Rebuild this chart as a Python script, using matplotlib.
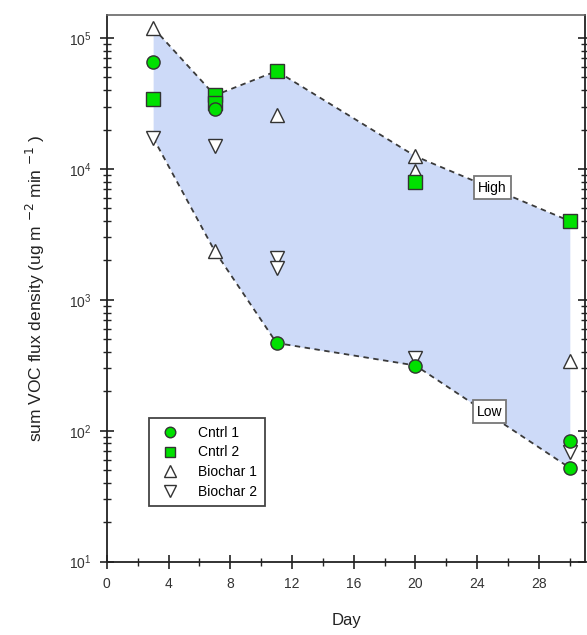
import matplotlib.pyplot as plt
from matplotlib.ticker import LogLocator, FixedLocator

plt.rcParams['font.family'] = ['Liberation Sans', 'DejaVu Sans']

# data (day, flux)
cntrl1_day = [3, 7, 11, 20, 30, 30]
cntrl1_val = [6.6e4, 2.85e4, 468, 315, 83, 52]
cntrl2_day = [3, 7, 7, 11, 20, 30]
cntrl2_val = [3.4e4, 3.65e4, 3.2e4, 5.6e4, 7.9e3, 4.0e3]
bio1_day = [3, 7, 11, 20, 20, 30]
bio1_val = [1.2e5, 2.35e3, 2.6e4, 1.25e4, 9.6e3, 338]
bio2_day = [3, 7, 11, 11, 20, 30]
bio2_val = [1.73e4, 1.49e4, 2.09e3, 1.75e3, 360, 69]

env_day = [3, 7, 11, 20, 30]
high_val = [1.2e5, 3.65e4, 5.6e4, 1.25e4, 4.0e3]
low_val = [1.73e4, 2.35e3, 468, 315, 52]

fig = plt.figure(figsize=(5.87, 6.35), dpi=100)
ax = fig.add_axes([0.182, 0.1156, 0.815, 0.8607])

ax.fill_between(env_day, low_val, high_val, color='#cddaf8', lw=0, zorder=1)
ax.plot(env_day, high_val, color='#3a3a3a', ls=(0, (3, 2.5)), lw=1.3, zorder=2)
ax.plot(env_day, low_val, color='#3a3a3a', ls=(0, (3, 2.5)), lw=1.3, zorder=2)

ec = '#333333'
ax.plot(bio1_day, bio1_val, ls='none', marker='^', ms=10, mfc='white', mec=ec, mew=1, label='Biochar 1', zorder=3)
ax.plot(bio2_day, bio2_val, ls='none', marker='v', ms=10, mfc='white', mec=ec, mew=1, label='Biochar 2', zorder=3)
ax.plot(cntrl2_day, cntrl2_val, ls='none', marker='s', ms=9.5, mfc='#00e000', mec=ec, mew=1, label='Cntrl 2', zorder=4)
ax.plot(cntrl1_day, cntrl1_val, ls='none', marker='o', ms=9.5, mfc='#00e000', mec=ec, mew=1, label='Cntrl 1', zorder=4)

ax.text(25.0, 7.2e3, 'High', fontsize=10, ha='center', va='center', zorder=5,
        bbox=dict(boxstyle='square,pad=0.3', fc='white', ec='#777777', lw=1.3))
ax.text(24.8, 1.4e2, 'Low', fontsize=10, ha='center', va='center', zorder=5,
        bbox=dict(boxstyle='square,pad=0.3', fc='white', ec='#777777', lw=1.3))

ax.set_yscale('log')
ax.set_xlim(0, 31)
ax.set_ylim(10, 1.5e5)
ax.xaxis.set_major_locator(FixedLocator([0, 4, 8, 12, 16, 20, 24, 28]))
ax.xaxis.set_minor_locator(FixedLocator([2, 6, 10, 14, 18, 22, 26, 30]))
ax.yaxis.set_major_locator(LogLocator(base=10, numticks=10))
ax.yaxis.set_minor_locator(LogLocator(base=10, subs=range(2, 10), numticks=10))

ax.tick_params(which='major', direction='inout', length=10, width=1.2, color='#222222',
               labelsize=10, labelcolor='#333333', right=True, pad=6)
ax.tick_params(which='minor', direction='inout', length=6, width=1.0, color='#222222', right=True)
ax.tick_params(axis='y', which='both', labelright=False)

for s in ['left', 'bottom', 'right']:
    ax.spines[s].set_color('#222222')
    ax.spines[s].set_linewidth(1.3)
ax.spines['top'].set_color('#666666')
ax.spines['top'].set_linewidth(1.2)

ax.set_xlabel('Day', fontsize=12, color='#222222', labelpad=16)
ax.set_ylabel('sum VOC flux density (ug m $^{-2}$ min $^{-1}$ )', fontsize=12.5,
              color='#222222', labelpad=16)

handles, labels = ax.get_legend_handles_labels()
order = [3, 2, 0, 1]
leg = ax.legend([handles[i] for i in order], [labels[i] for i in order],
                loc='upper left', bbox_to_anchor=(0.073, 0.275), fontsize=10,
                frameon=True, fancybox=False, edgecolor='#444444', framealpha=1,
                handletextpad=1.0, borderpad=0.55, labelspacing=0.4, markerscale=0.8)
leg.get_frame().set_linewidth(1.3)

fig.savefig('out.png', dpi=100)
